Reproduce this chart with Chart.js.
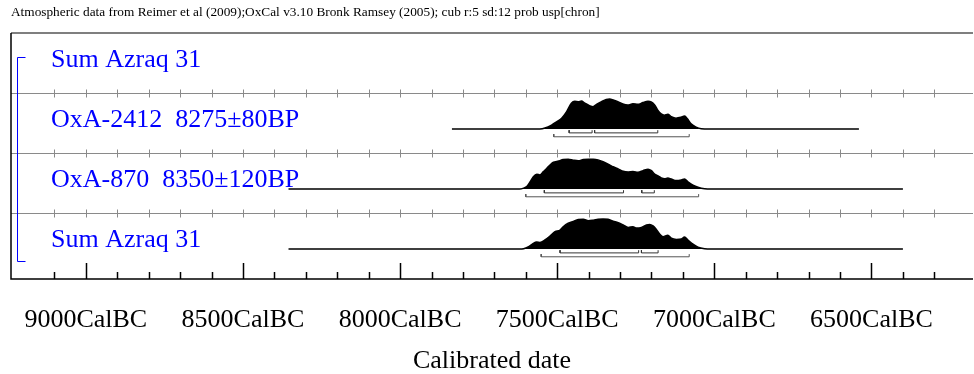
<!DOCTYPE html>
<html>
<head>
<meta charset="utf-8">
<script src="https://cdn.jsdelivr.net/npm/chart.js@4/dist/chart.umd.min.js"></script>
<style>
  body { margin: 0; background: #fff; }
  #wrap { width: 974px; height: 374px; }
</style>
</head>
<body>
<div id="wrap"><canvas id="chart"></canvas></div>
<script>
// row names, top to bottom
const rowLabels = ["Sum Azraq 31", "OxA-2412  8275\u00b180BP", "OxA-870  8350\u00b1120BP", "Sum Azraq 31"];
// years (cal BC) that get a label on the axis
const labelledYears = [9000, 8500, 8000, 7500, 7000, 6500];

// OxA-2412: probability (relative to peak) by year cal BC
const oxa2412Years = [7555, 7539, 7518, 7502, 7486, 7470, 7455, 7444, 7433, 7423, 7412, 7396, 7386, 7375, 7359, 7344, 7333, 7322, 7307, 7291, 7275, 7259, 7243, 7227, 7211, 7201, 7190, 7180, 7169, 7159, 7148, 7137, 7122, 7106, 7095, 7085, 7074, 7058, 7042, 7016];
const oxa2412Density = [0, 0.03, 0.13, 0.24, 0.36, 0.58, 0.86, 0.92, 0.91, 0.93, 0.86, 0.77, 0.74, 0.82, 0.91, 0.98, 1.0, 0.97, 0.91, 0.83, 0.8, 0.84, 0.82, 0.88, 0.92, 0.9, 0.8, 0.63, 0.5, 0.46, 0.49, 0.41, 0.36, 0.39, 0.43, 0.33, 0.17, 0.06, 0.01, 0];
const oxa2412Span = [7835, 6540];
const oxa2412Sigma1 = [[7462, 7389], [7381, 7180]];
const oxa2412Sigma2 = [[7511, 7080]];

// OxA-870
const oxa870Years = [7620, 7607, 7597, 7586, 7576, 7565, 7555, 7544, 7533, 7523, 7512, 7496, 7481, 7465, 7449, 7433, 7417, 7401, 7385, 7370, 7354, 7338, 7322, 7306, 7290, 7274, 7259, 7243, 7227, 7211, 7200, 7190, 7179, 7169, 7158, 7148, 7137, 7121, 7105, 7095, 7084, 7068, 7052, 7031, 7010];
const oxa870Density = [0, 0.03, 0.08, 0.24, 0.41, 0.49, 0.47, 0.58, 0.69, 0.8, 0.89, 0.93, 0.98, 0.99, 0.96, 0.94, 0.98, 0.99, 0.99, 0.97, 0.91, 0.83, 0.74, 0.67, 0.59, 0.57, 0.58, 0.56, 0.61, 0.66, 0.61, 0.5, 0.44, 0.37, 0.34, 0.37, 0.33, 0.28, 0.3, 0.33, 0.24, 0.13, 0.06, 0.01, 0];
const oxa870Span = [8355, 6400];
const oxa870Sigma1 = [[7541, 7289], [7231, 7191]];
const oxa870Sigma2 = [[7600, 7050]];

// Sum Azraq 31
const sumYears = [7620, 7607, 7591, 7576, 7565, 7555, 7539, 7523, 7507, 7491, 7481, 7465, 7449, 7433, 7417, 7401, 7385, 7370, 7354, 7338, 7322, 7306, 7290, 7274, 7259, 7248, 7232, 7216, 7206, 7195, 7185, 7174, 7163, 7148, 7137, 7121, 7105, 7095, 7084, 7068, 7052, 7031, 7010];
const sumDensity = [0, 0.01, 0.08, 0.19, 0.23, 0.22, 0.3, 0.43, 0.58, 0.63, 0.74, 0.86, 0.92, 0.98, 0.99, 0.94, 0.96, 0.99, 1.0, 0.99, 0.93, 0.88, 0.8, 0.72, 0.74, 0.7, 0.72, 0.8, 0.82, 0.77, 0.66, 0.5, 0.41, 0.46, 0.36, 0.32, 0.33, 0.4, 0.3, 0.16, 0.06, 0.01, 0];
const sumSpan = [8355, 6400];
const sumSigma1 = [[7491, 7241], [7232, 7179]];
const sumSigma2 = [[7551, 7080]];

// layout of the rows on the hidden y scale
const rowBase = [3.5, 2.5, 1.5, 0.5];
const serif = '"Liberation Serif", "Times New Roman", serif';

const plots = [
  { row: 1, years: oxa2412Years, density: oxa2412Density, span: oxa2412Span, s1: oxa2412Sigma1, s2: oxa2412Sigma2 },
  { row: 2, years: oxa870Years, density: oxa870Density, span: oxa870Span, s1: oxa870Sigma1, s2: oxa870Sigma2 },
  { row: 3, years: sumYears, density: sumDensity, span: sumSpan, s1: sumSigma1, s2: sumSigma2 }
];

const datasets = [];
plots.forEach(p => {
  const base = rowBase[p.row];
  const pts = [{ x: -p.span[0], y: base }];
  p.years.forEach((yr, i) => pts.push({ x: -yr, y: base + p.density[i] * 0.5 }));
  pts.push({ x: -p.span[1], y: base });
  datasets.push({
    data: pts,
    borderColor: "#000",
    backgroundColor: "#000",
    borderWidth: 1.5,
    fill: { value: base },
    cubicInterpolationMode: "monotone",
    pointRadius: 0
  });
  // probability ranges under the curve
  [[p.s1, base - 0.065, "#333"], [p.s2, base - 0.13, "#555"]].forEach(([ranges, yb, col]) => {
    ranges.forEach(([a, b]) => {
      datasets.push({
        data: [{ x: -a, y: yb + 0.045 }, { x: -a, y: yb }, { x: -b, y: yb }, { x: -b, y: yb + 0.045 }],
        borderColor: col,
        borderWidth: 1,
        fill: false,
        pointRadius: 0
      });
    });
  });
});

const frame = {
  id: "frame",
  beforeDatasetsDraw(chart) {
    const { ctx, chartArea: a, scales: { x, y } } = chart;
    const ticks = x.ticks.map(t => t.value).filter(v => v % 100 === 0);
    ctx.save();

    // row separators with small ticks
    ctx.strokeStyle = "#8a8a8a";
    ctx.lineWidth = 1;
    rowBase.slice(0, -1).forEach(b => {
      const py = Math.round(y.getPixelForValue(b - 0.4)) + 0.5;
      ctx.beginPath();
      ctx.moveTo(a.left, py);
      ctx.lineTo(a.right, py);
      ticks.forEach(v => {
        const px = Math.round(x.getPixelForValue(v)) + 0.5;
        ctx.moveTo(px, py - 4);
        ctx.lineTo(px, py + 4);
      });
      ctx.stroke();
    });

    // top border
    ctx.strokeStyle = "#555";
    ctx.lineWidth = 1.5;
    ctx.beginPath();
    ctx.moveTo(a.left, a.top);
    ctx.lineTo(a.right, a.top);
    ctx.stroke();

    // left border and bottom axis
    ctx.strokeStyle = "#000";
    ctx.beginPath();
    ctx.moveTo(a.left, a.top);
    ctx.lineTo(a.left, a.bottom);
    ctx.lineTo(a.right, a.bottom);
    ticks.forEach(v => {
      const px = Math.round(x.getPixelForValue(v)) + 0.5;
      ctx.moveTo(px, a.bottom);
      ctx.lineTo(px, a.bottom - (v % 500 === 0 ? 16 : 7));
    });
    ctx.stroke();

    // blue bracket joining the sum rows
    const bx = a.left + 6.5;
    const y1 = Math.round(y.getPixelForValue(rowBase[0] + 0.2)) + 0.5;
    const y2 = Math.round(y.getPixelForValue(rowBase[3] - 0.2)) + 0.5;
    ctx.strokeStyle = "#0000ff";
    ctx.lineWidth = 1;
    ctx.beginPath();
    ctx.moveTo(bx + 8, y1);
    ctx.lineTo(bx, y1);
    ctx.lineTo(bx, y2);
    ctx.lineTo(bx + 8, y2);
    ctx.stroke();
    ctx.restore();
  },
  afterDatasetsDraw(chart) {
    const { ctx, chartArea: a, scales: { y } } = chart;
    ctx.save();
    ctx.font = "26px " + serif;
    ctx.fillStyle = "#0000ff";
    ctx.textBaseline = "alphabetic";
    rowLabels.forEach((t, i) => ctx.fillText(t, a.left + 40, y.getPixelForValue(rowBase[i] + 0.04)));
    ctx.restore();
  }
};

new Chart(document.getElementById("chart"), {
  type: "line",
  data: { datasets },
  plugins: [frame],
  options: {
    responsive: true,
    maintainAspectRatio: false,
    animation: false,
    layout: { padding: { left: 11, right: 1, top: 0, bottom: 0 } },
    plugins: {
      legend: { display: false },
      tooltip: { enabled: false },
      title: {
        display: true,
        align: "start",
        text: "Atmospheric data from Reimer et al (2009);OxCal v3.10 Bronk Ramsey (2005); cub r:5 sd:12 prob usp[chron]",
        color: "#000",
        font: { family: serif, size: 13.3, weight: "normal", lineHeight: 1.2 },
        padding: { top: 5, bottom: 12 }
      }
    },
    scales: {
      x: {
        type: "linear",
        min: -9238,
        max: -6177,
        grid: { display: true, drawOnChartArea: false, drawTicks: true, tickLength: 26, color: "rgba(0,0,0,0)" },
        border: { display: false },
        ticks: {
          stepSize: 100,
          maxTicksLimit: 100,
          autoSkip: false,
          maxRotation: 0,
          padding: 0,
          color: "#000",
          font: { family: serif, size: 26 },
          callback: v => labelledYears.includes(-v) ? (-v) + "CalBC" : ""
        },
        title: {
          display: true,
          text: "Calibrated date",
          color: "#000",
          font: { family: serif, size: 26, lineHeight: 1.0 },
          padding: { top: 0, bottom: 0 }
        },
        afterFit: s => { s.height = 95; }
      },
      y: { display: false, min: 0, max: 4.1 }
    }
  }
});
</script>
</body>
</html>
